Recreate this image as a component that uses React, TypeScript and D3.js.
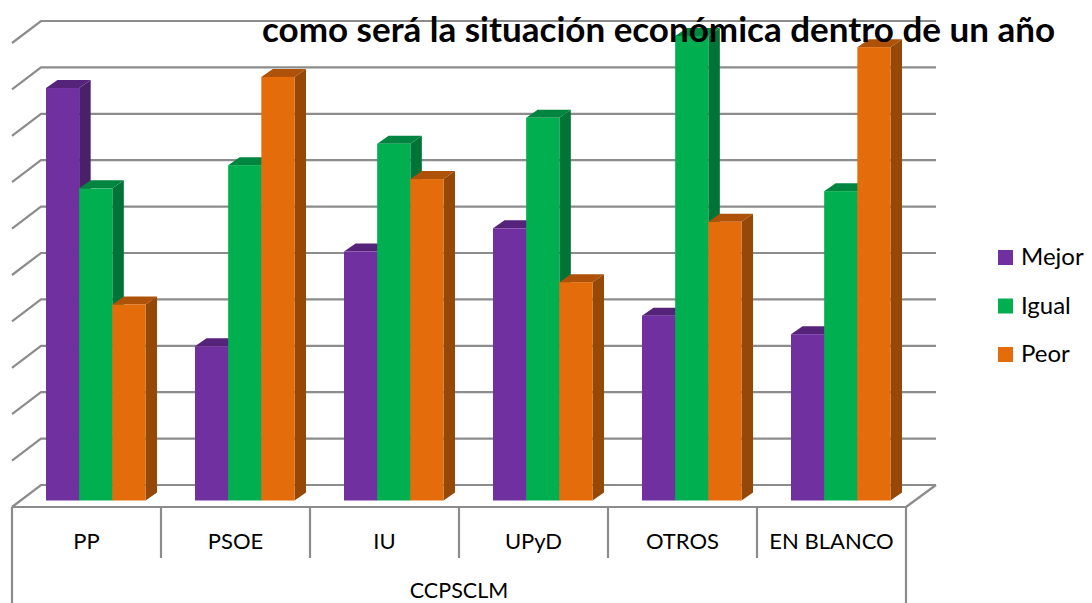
import React from "react";
import * as d3 from "d3";

const categories = ["PP", "PSOE", "IU", "UPyD", "OTROS", "EN BLANCO"];
const seriesNames = ["Mejor", "Igual", "Peor"];
const mejor = [44.4, 16.6, 26.8, 29.3, 19.9, 17.9];
const igual = [33.6, 36.1, 38.4, 41.2, 50.0, 33.3];
const peor = [21.1, 45.6, 34.6, 23.5, 30.0, 48.8];
const seriesValues = [mejor, igual, peor];
const gridTicks = [0, 5, 10, 15, 20, 25, 30, 35, 40, 45, 50];
const groupLabel = "CCPSCLM";
const titleText = "como será la situación económica dentro de un año";

const front = ["#7030A0", "#00B050", "#E46C0A"];
const side = ["#4A2069", "#007437", "#964807"];
const topFace = ["#55247A", "#008540", "#AD5208"];
const gridColor = "#8c8c8c";
const FONT = "Lato, Carlito, sans-serif";

export default function App() {
  const W = 1092, H = 603;
  const depthX = 29, depthY = 22;
  const barDX = 11.5, barDY = 8;
  const x0 = 12, x1 = 906, floorY = 507;
  const backY = d3.scaleLinear().domain([0, 50]).range([floorY - depthY, 21]);
  const barY = d3.scaleLinear().domain([0, 50]).range([500.5, 36]);
  const band = d3.scaleBand<string>().domain(categories).range([x0, x1]);
  const inner = d3.scaleBand<string>().domain(seriesNames).range([34, 133.5]);

  return (
    <svg width={W} height={H} viewBox={`0 0 ${W} ${H}`} style={{ position: "absolute", left: 0, top: 0, display: "block", background: "#fff" }}>
      {gridTicks.map((t) => {
        const y = backY(t);
        return (
          <g key={t} fill="none" stroke={gridColor} strokeWidth={2.2}>
            <polyline points={`${x0},${y + depthY} ${x0 + depthX},${y} ${x1 + 30},${y}`} />
          </g>
        );
      })}
      <line x1={x1} y1={floorY} x2={x1 + 30} y2={floorY - depthY} stroke={gridColor} strokeWidth={2.2} />

      {categories.map((c, ci) => (
        <g key={c}>
          {seriesNames.map((s, si) => {
            const v = seriesValues[si][ci];
            const x = (band(c) as number) + (inner(s) as number);
            const w = inner.bandwidth();
            const yT = barY(v);
            const yB = barY(0);
            return (
              <g key={s} stroke="none">
                <path d={`M${x + w},${yT}L${x + w + barDX},${yT - barDY}L${x + w + barDX},${yB - barDY}L${x + w},${yB}Z`} fill={side[si]} />
                <path d={`M${x},${yT}L${x + barDX},${yT - barDY}L${x + w + barDX},${yT - barDY}L${x + w},${yT}Z`} fill={topFace[si]} />
                <rect x={x} y={yT} width={w} height={yB - yT} fill={front[si]} />
              </g>
            );
          })}
        </g>
      ))}

      <line x1={x0} y1={floorY} x2={x1} y2={floorY} stroke={gridColor} strokeWidth={2.2} />
      {d3.range(categories.length + 1).map((i) => {
        const x = x0 + i * band.step();
        const outer = i === 0 || i === categories.length;
        return <line key={i} x1={x} x2={x} y1={floorY} y2={outer ? H : 558} stroke={gridColor} strokeWidth={2.2} />;
      })}
      {categories.map((c) => (
        <text key={c} x={(band(c) as number) + band.bandwidth() / 2} y={549} textAnchor="middle" fontFamily={FONT} fontSize={22} fill="#000">
          {c}
        </text>
      ))}
      <text x={(x0 + x1) / 2} y={598} textAnchor="middle" fontFamily={FONT} fontSize={21.5} fill="#000">
        {groupLabel}
      </text>

      {seriesNames.map((s, i) => {
        const y = 257.5 + i * 48.5;
        return (
          <g key={s}>
            <rect x={998} y={y - 7.5} width={15} height={15} fill={front[i]} />
            <text x={1021} y={y + 7.5} fontFamily={FONT} fontSize={24} fill="#000">
              {s}
            </text>
          </g>
        );
      })}

      <text x={262} y={41.5} fontFamily={FONT} fontSize={35} fontWeight={700} fill="#000">
        {titleText}
      </text>
    </svg>
  );
}
